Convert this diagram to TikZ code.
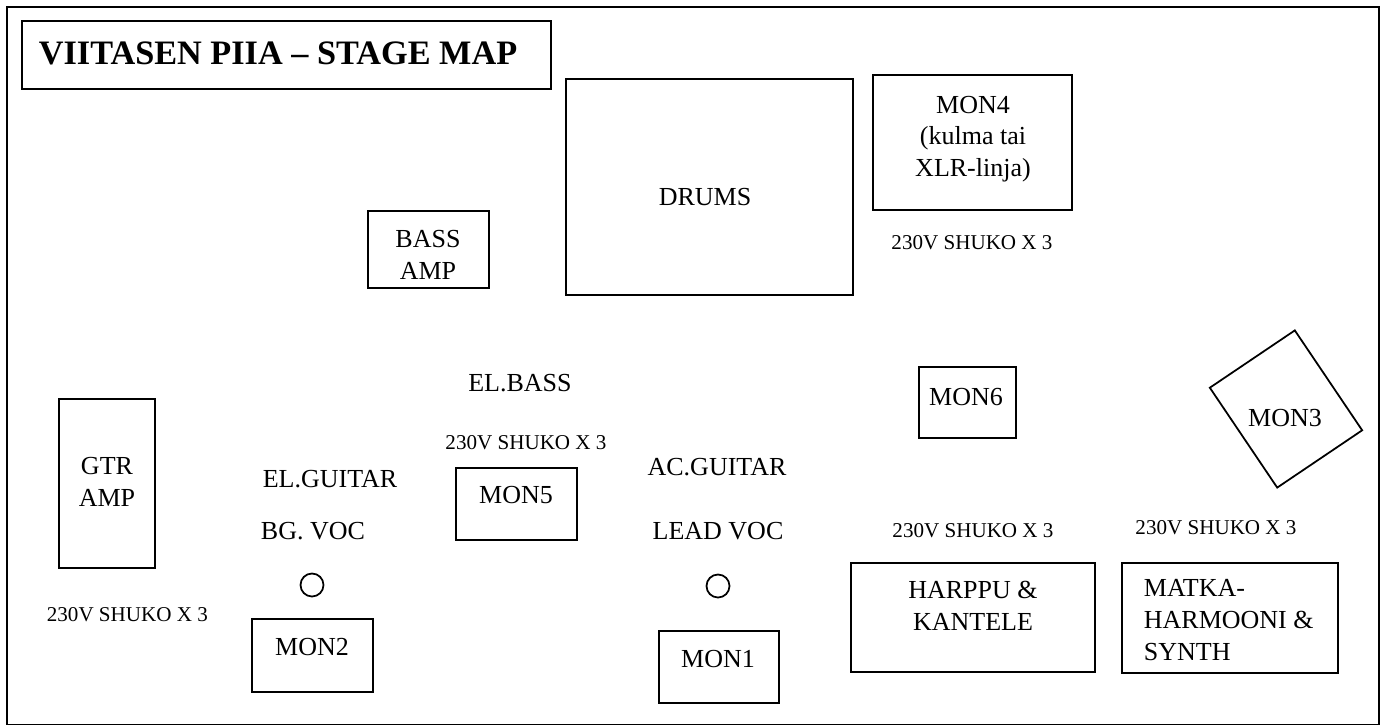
\documentclass[tikz,border=0pt]{standalone}
\usepackage{fontspec}
\setmainfont{Liberation Serif}
\tikzset{
  lbl/.style={font=\fontsize{14.8}{18.1}\selectfont, align=center, inner sep=0pt},
  smalllbl/.style={font=\fontsize{12}{14}\selectfont, inner sep=0pt},
  titlelbl/.style={font=\fontsize{19.5}{23}\selectfont\bfseries, inner sep=0pt}
}
\begin{document}
\begin{tikzpicture}[x=0.02cm, y=-0.02cm, line width=1pt, line join=miter]
			\useasboundingbox (0,0) rectangle (1386,727);
			% stage outline and title
			\draw[line width=0.8pt] (7,7) rectangle (1379,724.5);
			\draw (22,21) rectangle (551,89);
			\node[titlelbl, anchor=west] (title) at (38,53) {VIITASEN PIIA – STAGE MAP};
			% back line
			\draw (566,79) rectangle (853,295);
			\node[lbl] (drums) at (705,197) {DRUMS};
			\draw (873,75) rectangle (1072,210);
			\node[lbl] (mon4) at (973,139) {MON4\\(kulma tai\\XLR-linja)};
			\draw (368,211) rectangle (489,288);
			\node[lbl] (bassamp) at (428,255) {BASS\\AMP};
			\node[smalllbl] (powerdrums) at (972,243) {230V SHUKO X 3};
			% middle
			\node[lbl] (elbass) at (520,383) {EL.BASS};
			\node[smalllbl] (powerbass) at (526,443) {230V SHUKO X 3};
			\draw (456,468) rectangle (577,540);
			\node[lbl] (mon5) at (516,495) {MON5};
			\draw (919,367) rectangle (1016,438);
			\node[lbl] (mon6) at (966,397) {MON6};
			\node[draw, rotate=34, minimum width=2.05cm, minimum height=2.41cm, inner sep=0pt] (mon3box) at (1286,409) {};
			\node[lbl] (mon3) at (1285,418) {MON3};
			% guitar side
			\draw (59,399) rectangle (155,568);
			\node[lbl] (gtramp) at (107,482) {GTR\\AMP};
			\node[smalllbl, anchor=west] (powergtr) at (46,615) {230V SHUKO X 3};
			\node[lbl] (elguitar) at (330,479) {EL.GUITAR};
			\node[lbl] (bgvoc) at (313,531) {BG. VOC};
			\node[draw, circle, minimum size=0.46cm, inner sep=0pt] (micbg) at (312,585) {};
			\draw (252,619) rectangle (373,692);
			\node[lbl] (mon2) at (312,647) {MON2};
			% front centre
			\node[lbl] (acguitar) at (717,467) {AC.GUITAR};
			\node[lbl] (leadvoc) at (718,531) {LEAD VOC};
			\node[draw, circle, minimum size=0.46cm, inner sep=0pt] (miclead) at (718,586) {};
			\draw (659,631) rectangle (779,703);
			\node[lbl] (mon1) at (718,659) {MON1};
			% keys
			\node[smalllbl] (powerharp) at (973,531) {230V SHUKO X 3};
			\draw (851,563) rectangle (1095,672);
			\node[lbl] (harppu) at (973,606) {HARPPU \&\\KANTELE};
			\node[smalllbl] (powersynth) at (1216,528) {230V SHUKO X 3};
			\draw (1122,563) rectangle (1338,673);
			\node[lbl, align=left, anchor=west] (matka) at (1143,620) {MATKA-\\HARMOONI \&\\SYNTH};
\end{tikzpicture}
\end{document}
